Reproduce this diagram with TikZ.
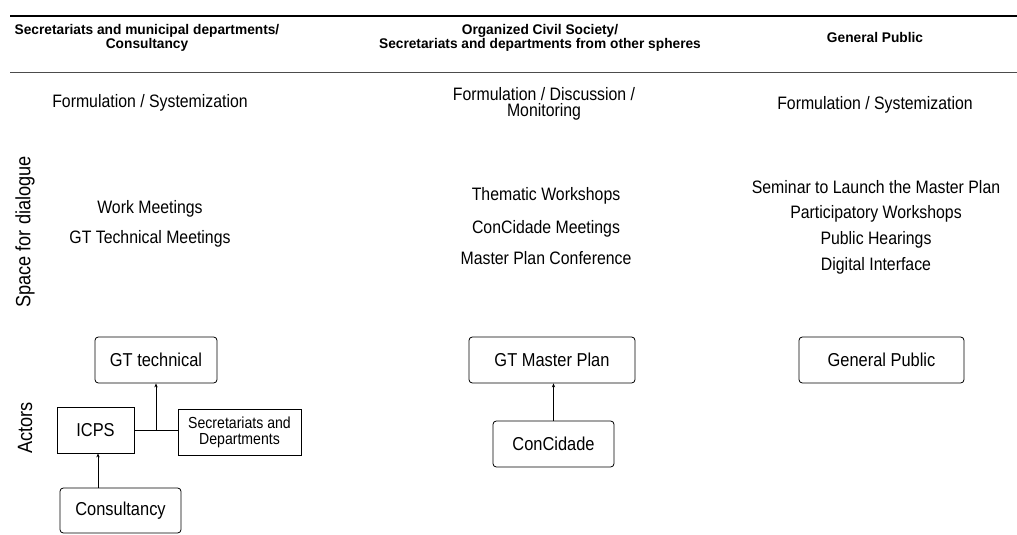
\documentclass[tikz,border=0pt]{standalone}
\usepackage{fontspec}
\setmainfont{Liberation Sans}[FakeStretch=0.88, BoldFeatures={FakeStretch=0.98}]
\usetikzlibrary{arrows.meta}

\begin{document}
\begin{tikzpicture}[x=0.75pt,y=-0.75pt,
    txt/.style={font=\fontsize{13.5}{13.5}\selectfont, inner sep=0pt, align=center},
    head/.style={font=\bfseries\fontsize{10.5}{9.75}\selectfont, inner sep=0pt, align=center},
    side/.style={font=\fontsize{15.5}{15.5}\selectfont, inner sep=0pt, rotate=90},
    rbox/.style={draw, rounded corners=2.5pt, font=\fontsize{14}{14}\selectfont, inner sep=0pt, line width=0.6pt},
    sbox/.style={draw, font=\fontsize{14}{14}\selectfont, inner sep=0pt, line width=0.6pt, align=center},
    conn/.style={line width=0.6pt, -{Stealth[length=3pt,width=2.5pt]}}]
  \useasboundingbox (0,0) rectangle (1017,535);
  \coordinate (TL) at (10,16);
  \coordinate (TR) at (1017,16);
  \coordinate (ML) at (10,72);
  \coordinate (MR) at (1017,72);
  \draw [line width=1.5pt] (TL) -- (TR);
  \draw [line width=0.6pt, black!70] (ML) -- (MR);
  % header
  \node [head] (H1) at (147,38) {Secretariats and municipal departments/\\Consultancy};
  \node [head] (H2) at (540,38) {Organized Civil Society/\\Secretariats and departments from other spheres};
  \node [head] (H3) at (875,37) {General Public};
  % formulation row
  \node [txt] (F1) at (150,103) {Formulation / Systemization};
  \node [txt, font=\fontsize{13.5}{12.5}\selectfont] (F2) at (544,104) {Formulation / Discussion /\\Monitoring};
  \node [txt] (F3) at (875,105) {Formulation / Systemization};
  % space for dialogue
  \node [side] (S) at (25,232) {Space for dialogue};
  \node [txt] (W1) at (150,209) {Work Meetings};
  \node [txt] (W2) at (150,239) {GT Technical Meetings};
  \node [txt] (T1) at (546,196) {Thematic Workshops};
  \node [txt] (T2) at (546,229) {ConCidade Meetings};
  \node [txt] (T3) at (546,258) {Master Plan Conference};
  \node [txt] (P1) at (876,187) {Seminar to Launch the Master Plan};
  \node [txt] (P2) at (876,214) {Participatory Workshops};
  \node [txt] (P3) at (876,240) {Public Hearings};
  \node [txt] (P4) at (876,266) {Digital Interface};
  % actors
  \node [side] (A) at (25,428) {Actors};
  \node [rbox, minimum width=91.5pt, minimum height=34.5pt] (gtt) at (156,360) {GT technical};
  \node [sbox, minimum width=57.75pt, minimum height=34.5pt] (icps) at (95.5,430) {ICPS};
  \node [sbox, minimum width=92.25pt, minimum height=34.5pt, font=\fontsize{12}{12}\selectfont] (sec) at (239.5,432) {Secretariats and\\Departments};
  \node [rbox, minimum width=90.75pt, minimum height=33.75pt] (cons) at (120.5,510.5) {Consultancy};
  \node [rbox, minimum width=124.5pt, minimum height=34.5pt] (gtmp) at (552,360) {GT Master Plan};
  \node [rbox, minimum width=90.75pt, minimum height=34.5pt] (ccd) at (553.5,444) {ConCidade};
  \node [rbox, minimum width=123.75pt, minimum height=34.5pt] (gp) at (881.5,360) {General Public};
  \coordinate (J) at (156,430);
  \coordinate (C) at (98,488);
  \draw [line width=0.6pt] (icps.east) -- (sec.west |- icps.east);
  \draw [conn] (J) -- (gtt.south);
  \draw [conn] (C) -- (C |- icps.south);
  \draw [conn] (ccd.north) -- (ccd.north |- gtmp.south);
\end{tikzpicture}
\end{document}
